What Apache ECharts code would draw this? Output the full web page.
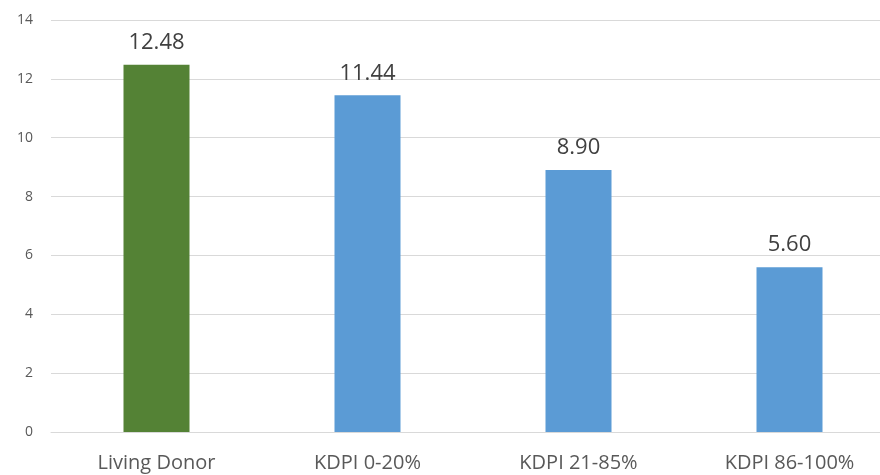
<!DOCTYPE html>
<html>
<head>
<meta charset="utf-8">
<script src="https://cdn.jsdelivr.net/npm/echarts@6/dist/echarts.min.js"></script>
<style>
html,body{margin:0;padding:0;background:#fff;overflow:hidden;}
/* a bit wider than the window: the original is cropped on the right */
#main{width:895px;height:475px;}
</style>
</head>
<body>
<div id="main"></div>
<script>
var categories = ['Living Donor', 'KDPI 0-20%', 'KDPI 21-85%', 'KDPI 86-100%'];
var values = [12.48, 11.44, 8.90, 5.60];
var barColors = ['#548235', '#5b9bd5', '#5b9bd5', '#5b9bd5'];

var chart = echarts.init(document.getElementById('main'));
var option = {
	animation: false,
	grid: {left: 51, right: 0, top: 20, bottom: 43, containLabel: false},
	xAxis: {
		type: 'category',
		data: categories,
		axisLine: {lineStyle: {color: '#d9d9d9', width: 1}},
		axisTick: {show: false},
		axisLabel: {color: '#595959', fontSize: 20, fontFamily: 'Open Sans', margin: 21}
	},
	yAxis: {
		type: 'value',
		min: 0, max: 14, interval: 2,
		axisLine: {show: false},
		axisTick: {show: false},
		splitLine: {lineStyle: {color: '#d9d9d9', width: 1}},
		axisLabel: {color: '#595959', fontSize: 14, fontFamily: 'Open Sans', margin: 18}
	},
	series: [{
		type: 'bar',
		barWidth: 66,
		data: values.map(function(v, i){
			return {value: v, itemStyle: {color: barColors[i]}};
		}),
		label: {
			show: true,
			position: 'top',
			distance: 11,
			color: '#404040',
			fontSize: 22,
			fontFamily: 'Open Sans',
			formatter: function(p){ return p.value.toFixed(2); }
		}
	}]
};
chart.setOption(option);
</script>
</body>
</html>
